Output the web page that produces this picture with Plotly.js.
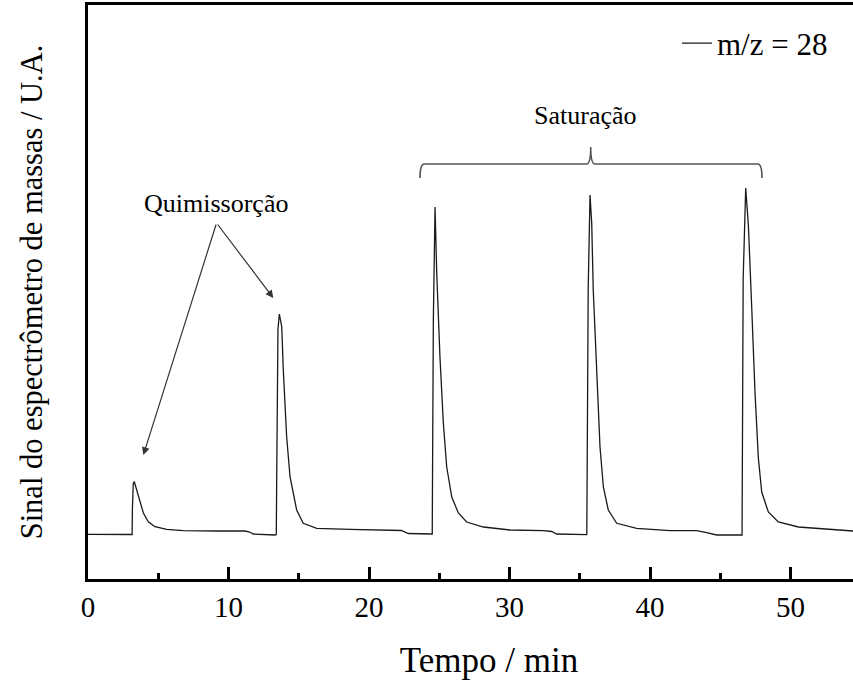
<!DOCTYPE html>
<html>
<head>
<meta charset="utf-8">
<script src="https://cdn.plot.ly/plotly-3.0.1.min.js"></script>
<style>html,body{margin:0;padding:0;background:#fff;overflow:hidden;}#chart{width:890px;height:680px;}</style>
</head>
<body>
<div id="chart"></div>
<script>
// Time (min)
const tempo = [
  0, 1.5, 2.9, 3.14, 3.16, 3.22, 3.29, 3.46, 3.70, 3.94, 4.29, 4.77, 5.6, 6.78, 9.15, 11.17, 11.5, 11.76, 13.3, 13.40,
  13.43, 13.47, 13.52, 13.62, 13.79, 13.90, 14.14, 14.38, 14.85, 15.32, 16.28, 18.65, 20.5, 22.3, 22.8, 24.5,
  24.53, 24.58, 24.70, 24.82, 25.05, 25.29, 25.53, 25.89, 26.36, 26.95, 28.14, 30.04, 32.41, 33.0, 33.36, 35.5,
  35.54, 35.60, 35.73, 35.85, 35.96, 36.21, 36.44, 36.68, 37.03, 37.63, 39.05, 41.42, 43.32, 44.03, 44.75, 46.55,
  46.57, 46.63, 46.81, 47.0, 47.24, 47.47, 47.71, 47.95, 48.42, 49.13, 50.56, 52.46, 54.45
];
// Mass spectrometer signal m/z = 28 (arbitrary units)
const sinal = [
  44.7, 44.7, 44.2, 44.5, 70, 95, 97.5, 89, 76, 66, 57.3, 52.3, 49.7, 48.3, 48, 48, 47, 45, 44, 44.5,
  100, 180, 250, 265, 252, 209, 142, 102, 69, 55.7, 50.7, 49.7, 49, 48.5, 45.5, 45,
  130, 260, 372, 306, 222, 156, 112, 82, 66, 57, 52, 49, 48.3, 47.5, 45, 44.3,
  140, 290, 384, 356, 289, 199, 132, 92, 69, 55.7, 50.7, 48.3, 48.3, 46.3, 44, 44,
  150, 300, 391, 354, 271, 187, 121, 87, 67, 57, 52, 50, 48
];
const serieNome = 'm/z = 28';
const xTickVals = [0, 10, 20, 30, 40, 50];
const xTickText = ['0', '10', '20', '30', '40', '50'];

// Annotation anchors (data coordinates)
const quimTexto = {x: 9.12, y: 376, text: 'Quimissorção'};
const quimSeta = {ax: 9.15, ay: 356};
const quimAlvos = [{x: 3.94, y: 124}, {x: 13.19, y: 281}];
const satTexto = {x: 35.4, y: 464, text: 'Saturação'};
const chave = {x0: 23.63, x1: 47.97, xm: 35.78, yEnd: 401, yLine: 415, yTip: 432};

const F = 'Liberation Serif';

const c = chave;
const bracePath =
  'M' + c.x0 + ',' + c.yEnd +
  ' Q' + c.x0 + ',' + c.yLine + ' ' + (c.x0 + 0.3) + ',' + c.yLine +
  ' L' + (c.xm - 0.3) + ',' + c.yLine +
  ' Q' + c.xm + ',' + c.yLine + ' ' + c.xm + ',' + c.yTip +
  ' Q' + c.xm + ',' + c.yLine + ' ' + (c.xm + 0.3) + ',' + c.yLine +
  ' L' + (c.x1 - 0.3) + ',' + c.yLine +
  ' Q' + c.x1 + ',' + c.yLine + ' ' + c.x1 + ',' + c.yEnd;

const annotations = [
  {x: quimTexto.x, y: quimTexto.y, xref: 'x', yref: 'y', text: quimTexto.text, showarrow: false,
   font: {family: F, size: 26, color: '#000'}},
  {x: satTexto.x, y: satTexto.y, xref: 'x', yref: 'y', text: satTexto.text, showarrow: false,
   font: {family: F, size: 26, color: '#000'}}
];
quimAlvos.forEach(function (a) {
  annotations.push({x: a.x, y: a.y, xref: 'x', yref: 'y', ax: quimSeta.ax, ay: quimSeta.ay,
    axref: 'x', ayref: 'y', text: '', showarrow: true, arrowhead: 2, arrowsize: 1.3,
    arrowwidth: 1.2, arrowcolor: '#333', standoff: 0, startstandoff: 0});
});

const trace = {
  x: tempo, y: sinal, type: 'scatter', mode: 'lines', name: serieNome,
  line: {color: '#1a1a1a', width: 1.3}
};

const layout = {
  width: 890, height: 680,
  margin: {l: 88, r: 0, t: 5, b: 101},
  paper_bgcolor: '#fff', plot_bgcolor: '#fff',
  font: {family: F, color: '#000'},
  showlegend: true,
  legend: {x: 0.7344, y: 0.980, xanchor: 'left', yanchor: 'top', bgcolor: 'rgba(0,0,0,0)',
    font: {family: F, size: 31, color: '#000'}},
  xaxis: {
    range: [0, 57.08], showgrid: false, zeroline: false,
    showline: true, linewidth: 3, linecolor: '#000', mirror: true,
    ticks: 'inside', ticklen: 12, tickwidth: 3, tickcolor: '#000',
    tickvals: xTickVals, ticktext: xTickText,
    tickfont: {family: F, size: 29, color: '#000'},
    minor: {ticks: 'inside', ticklen: 6, tickwidth: 3, tickcolor: '#000', dtick: 5, tick0: 0, showgrid: false},
    title: {text: 'Tempo / min', font: {family: F, size: 35, color: '#000'}, standoff: 26}
  },
  yaxis: {
    range: [0, 574], showgrid: false, zeroline: false,
    showline: true, linewidth: 3, linecolor: '#000',
    ticks: '', showticklabels: false,
    title: {text: 'Sinal do espectrômetro de massas / U.A.', font: {family: F, size: 30.5, color: '#000'}, standoff: 34}
  },
  shapes: [{type: 'path', xref: 'x', yref: 'y', path: bracePath, line: {color: '#555', width: 1.6}}],
  annotations: annotations
};

Plotly.newPlot('chart', [trace], layout, {displayModeBar: false, staticPlot: true});
</script>
</body>
</html>
